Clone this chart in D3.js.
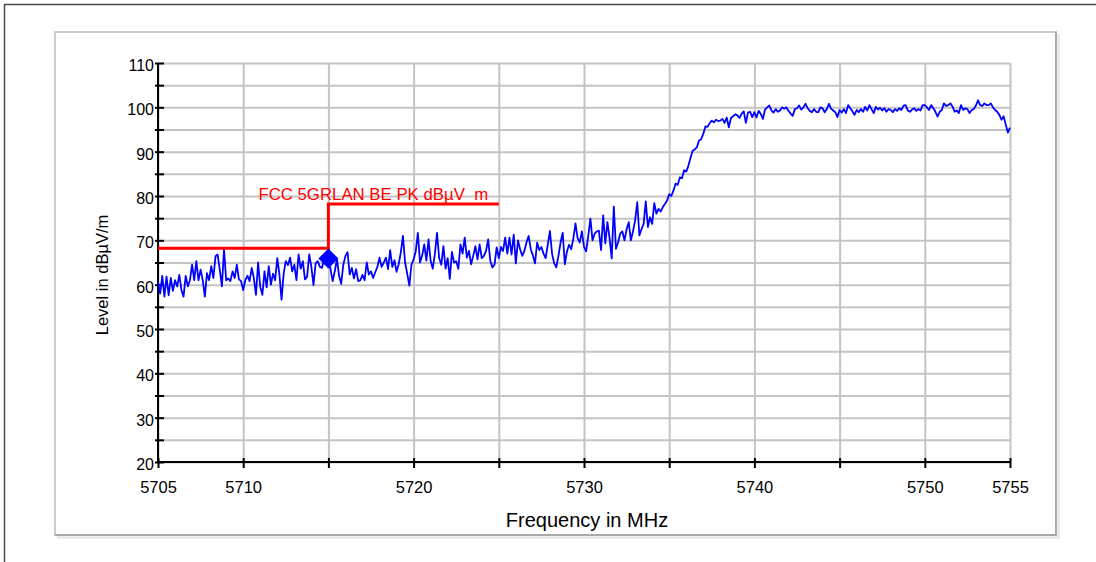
<!DOCTYPE html>
<html>
<head>
<meta charset="utf-8">
<script src="https://cdn.jsdelivr.net/npm/d3@7"></script>
<style>
  html, body { margin: 0; padding: 0; background: #ffffff; }
  svg { display: block; font-family: "Liberation Sans", Arial, sans-serif; }
</style>
</head>
<body>
<svg id="chart" width="1096" height="562"></svg>
<script>
// Sweep settings: 401 points, 0.125 MHz apart, 5705 .. 5755 MHz
const freqStart = 5705;
const freqStep = 0.125;

// Measured level (dBµV/m), one block per 5 MHz span
const level5705 = [60.7, 58.0, 62.0, 57.3, 61.8, 57.6, 61.5, 58.6, 61.0, 59.6, 62.2, 58.8, 57.3, 62.0, 59.6, 61.0, 64.5, 61.0, 65.3, 61.0, 63.4, 61.0, 57.3, 62.6, 61.0, 64.2, 61.5, 66.4, 66.8, 63.4, 59.6, 68.0, 61.0, 61.4, 60.8, 63.0, 61.5, 64.5, 61.2, 60.8];
const level5710 = [58.8, 61.0, 62.0, 60.8, 63.8, 61.5, 57.7, 65.0, 59.5, 57.7, 63.0, 59.4, 64.2, 60.0, 62.5, 61.0, 66.0, 62.3, 56.6, 62.5, 65.3, 64.4, 66.1, 63.0, 64.5, 61.0, 66.8, 63.6, 65.3, 61.2, 61.8, 66.8, 64.0, 59.9, 64.8, 65.3, 64.0, 63.8, 65.7, 66.8];
const level5715 = [65.9, 63.5, 60.8, 63.0, 65.8, 62.0, 60.2, 64.5, 66.5, 67.3, 62.3, 63.8, 61.4, 63.5, 60.8, 61.0, 62.2, 61.0, 65.0, 62.3, 63.0, 61.5, 62.8, 64.0, 66.1, 64.0, 65.0, 66.1, 63.5, 67.8, 64.0, 65.5, 62.9, 64.6, 67.3, 71.0, 65.0, 62.5, 59.8, 64.5];
const level5720 = [65.7, 67.5, 71.7, 65.0, 66.5, 69.1, 65.4, 70.2, 65.4, 63.6, 67.0, 71.7, 66.0, 64.5, 68.7, 63.6, 66.0, 61.3, 67.4, 65.0, 65.3, 63.6, 69.1, 67.0, 70.6, 66.1, 67.6, 64.6, 66.5, 68.7, 65.7, 69.1, 66.0, 66.5, 67.6, 70.2, 65.4, 63.9, 64.5, 68.4];
const level5725 = [66.0, 68.5, 67.6, 70.6, 67.0, 70.6, 66.8, 71.3, 64.8, 70.0, 68.0, 66.5, 67.6, 69.5, 71.0, 68.0, 66.6, 64.8, 69.5, 67.8, 68.5, 67.0, 66.0, 69.0, 72.1, 67.0, 64.8, 63.9, 66.5, 69.5, 71.7, 64.6, 67.5, 69.0, 68.0, 70.4, 73.8, 70.5, 69.5, 72.0];
const level5730 = [68.5, 67.5, 71.0, 74.9, 70.0, 71.5, 72.0, 72.2, 67.8, 75.6, 69.3, 74.1, 70.5, 65.9, 77.6, 68.1, 69.5, 71.5, 72.0, 70.0, 72.5, 74.1, 70.0, 72.0, 74.5, 78.6, 71.1, 72.5, 73.7, 78.8, 73.0, 75.2, 73.7, 78.4, 76.0, 77.1, 76.5, 77.5, 78.2, 79.0];
const level5735 = [80.4, 80.0, 81.2, 82.8, 82.5, 84.2, 84.0, 85.8, 85.5, 86.8, 88.6, 90.2, 90.5, 91.0, 92.5, 92.8, 94.0, 95.7, 95.6, 96.4, 97.0, 96.6, 97.2, 96.9, 97.0, 97.4, 96.5, 97.7, 95.5, 97.6, 98.0, 98.4, 98.2, 97.6, 98.6, 99.1, 96.5, 98.8, 99.0, 97.8];
const level5740 = [98.9, 97.7, 99.2, 98.5, 97.4, 99.5, 100.0, 100.4, 99.3, 98.8, 99.6, 99.0, 99.3, 100.0, 99.7, 100.0, 99.2, 98.6, 98.1, 99.6, 99.8, 100.4, 99.5, 100.0, 100.8, 99.8, 99.2, 98.9, 99.6, 99.0, 98.9, 100.0, 99.8, 98.9, 99.6, 100.8, 99.7, 99.3, 98.9, 97.8];
const level5745 = [99.4, 98.8, 99.6, 98.7, 100.5, 99.8, 99.1, 98.3, 99.4, 98.9, 99.6, 99.0, 100.1, 99.3, 100.5, 99.6, 98.7, 100.1, 99.5, 99.9, 99.3, 99.8, 99.0, 99.6, 99.4, 98.9, 99.6, 99.2, 99.8, 99.4, 100.4, 100.5, 99.3, 99.0, 99.5, 99.8, 99.2, 99.6, 99.3, 100.5];
const level5750 = [100.5, 100.0, 99.4, 100.5, 99.8, 99.0, 97.9, 99.0, 99.4, 100.9, 100.3, 100.5, 100.9, 100.2, 99.0, 99.3, 98.7, 100.5, 99.4, 99.8, 99.6, 98.7, 99.4, 99.6, 100.4, 101.6, 100.5, 100.3, 100.9, 100.5, 100.5, 100.9, 100.0, 99.4, 99.0, 98.3, 97.2, 98.0, 96.1, 94.3, 95.4];

// Limit line (step) and peak marker
const limitName = "FCC 5GRLAN BE PK dBµV  m";
const limitFreqs = [5705, 5715, 5725];
const limitLevels = [68.2, 78.2, 78.2];
const markerFreq = 5715;
const markerLevel = 65.9;

// Axes
const xTicks = [5705, 5710, 5715, 5720, 5725, 5730, 5735, 5740, 5745, 5750, 5755];
const xLabels = [5705, 5710, 5720, 5730, 5740, 5750, 5755];
const yTicks = [20, 25, 30, 35, 40, 45, 50, 55, 60, 65, 70, 75, 80, 85, 90, 95, 100, 105, 110];
const yLabels = [20, 30, 40, 50, 60, 70, 80, 90, 100, 110];
const xTitle = "Frequency in MHz";
const yTitle = "Level in dBµV/m";

const levels = [].concat(level5705, level5710, level5715, level5720, level5725,
                         level5730, level5735, level5740, level5745, level5750);
const trace = levels.map((v, i) => ({ f: freqStart + i * freqStep, v }));
const limit = limitFreqs.map((f, i) => ({ f, v: limitLevels[i] }));

const svg = d3.select("#chart");
const plotL = 158, plotR = 1010, plotT = 63, plotB = 462;

const x = d3.scaleLinear().domain([5705, 5755]).range([plotL, plotR]);
const y = d3.scaleLinear().domain([20, 110]).range([plotB, plotT]);

// Outer frame
svg.append("rect")
  .attr("x", 4.5).attr("y", 4.5).attr("width", 1200).attr("height", 700)
  .attr("fill", "none").attr("stroke", "#4a4a4a").attr("stroke-width", 1.5);

// Panel with light shadowed border
svg.append("rect")
  .attr("x", 55).attr("y", 32).attr("width", 1001).attr("height", 503)
  .attr("fill", "#ffffff").attr("stroke", "#cccccc").attr("stroke-width", 2);
svg.append("path")
  .attr("d", "M1056,32V535H55")
  .attr("fill", "none").attr("stroke", "#a9a9a9").attr("stroke-width", 2);
svg.append("path")
  .attr("d", "M1058.5,34V537.5H57")
  .attr("fill", "none").attr("stroke", "#e2e2e2").attr("stroke-width", 2);

// Grid
svg.append("g")
  .attr("transform", `translate(0,${plotB})`)
  .call(d3.axisBottom(x).tickValues(xTicks).tickSize(-(plotB - plotT)).tickFormat(""))
  .call(g => g.select(".domain").remove())
  .call(g => g.selectAll("line").attr("stroke", "#c4c4c4").attr("stroke-width", 2));
svg.append("g")
  .attr("transform", `translate(${plotL},0)`)
  .call(d3.axisLeft(y).tickValues(yTicks).tickSize(-(plotR - plotL)).tickFormat(""))
  .call(g => g.select(".domain").remove())
  .call(g => g.selectAll("line").attr("stroke", "#c4c4c4").attr("stroke-width", 2));

// X axis
svg.append("g")
  .attr("transform", `translate(0,${plotB})`)
  .call(d3.axisBottom(x).tickValues(xTicks).tickSize(6).tickSizeOuter(0)
    .tickFormat(d => xLabels.includes(d) ? String(d) : ""))
  .call(g => g.select(".domain").attr("stroke", "#000").attr("stroke-width", 2)
    .attr("d", `M${plotL},0H${plotR}`))
  .call(g => g.selectAll(".tick line").attr("stroke", "#000").attr("stroke-width", 2)
    .attr("y1", -4).attr("y2", 6))
  .call(g => g.selectAll(".tick text").attr("fill", "#000").attr("font-size", 16.5)
    .attr("font-family", "Liberation Sans, Arial, sans-serif")
    .attr("y", 30.7).attr("dy", 0));

// Y axis
svg.append("g")
  .attr("transform", `translate(${plotL},0)`)
  .call(d3.axisLeft(y).tickValues(yTicks).tickSize(3).tickSizeOuter(0)
    .tickFormat(d => yLabels.includes(d) ? String(d) : ""))
  .call(g => g.select(".domain").attr("stroke", "#000").attr("stroke-width", 2)
    .attr("d", `M0,${plotT}V${plotB}`))
  .call(g => g.selectAll(".tick line").attr("stroke", "#000").attr("stroke-width", 2)
    .attr("x1", -3).attr("x2", 6))
  .call(g => g.selectAll(".tick text").attr("fill", "#000").attr("font-size", 16)
    .attr("font-family", "Liberation Sans, Arial, sans-serif")
    .attr("x", -4).attr("dy", 0).attr("y", 7.5));

// Axis titles
svg.append("text")
  .attr("x", 587).attr("y", 527)
  .attr("text-anchor", "middle").attr("font-size", 20).attr("fill", "#000")
  .text(xTitle);
svg.append("text")
  .attr("transform", "translate(108,275) rotate(-90)")
  .attr("text-anchor", "middle").attr("font-size", 16.5).attr("fill", "#000")
  .text(yTitle);

// Measured trace
svg.append("path")
  .datum(trace)
  .attr("fill", "none").attr("stroke", "#0000ff").attr("stroke-width", 1.8)
  .attr("stroke-linejoin", "round")
  .attr("d", d3.line().x(d => x(d.f)).y(d => y(d.v)));

// Limit line
svg.append("path")
  .datum(limit)
  .attr("fill", "none").attr("stroke", "#ff0000").attr("stroke-width", 3)
  .attr("d", d3.line().curve(d3.curveStepAfter).x(d => x(d.f)).y(d => y(d.v)));
svg.append("text")
  .attr("x", x(5715) - 70).attr("y", y(limitLevels[1]) - 4)
  .attr("font-size", 16.8).attr("fill", "#ff0000")
  .style("white-space", "pre")
  .text(limitName);

// Peak marker
svg.append("path")
  .attr("transform", `translate(${x(markerFreq)},${y(markerLevel)}) rotate(45)`)
  .attr("d", d3.symbol().type(d3.symbolSquare).size(200)())
  .attr("fill", "#0000ff");
</script>
</body>
</html>
